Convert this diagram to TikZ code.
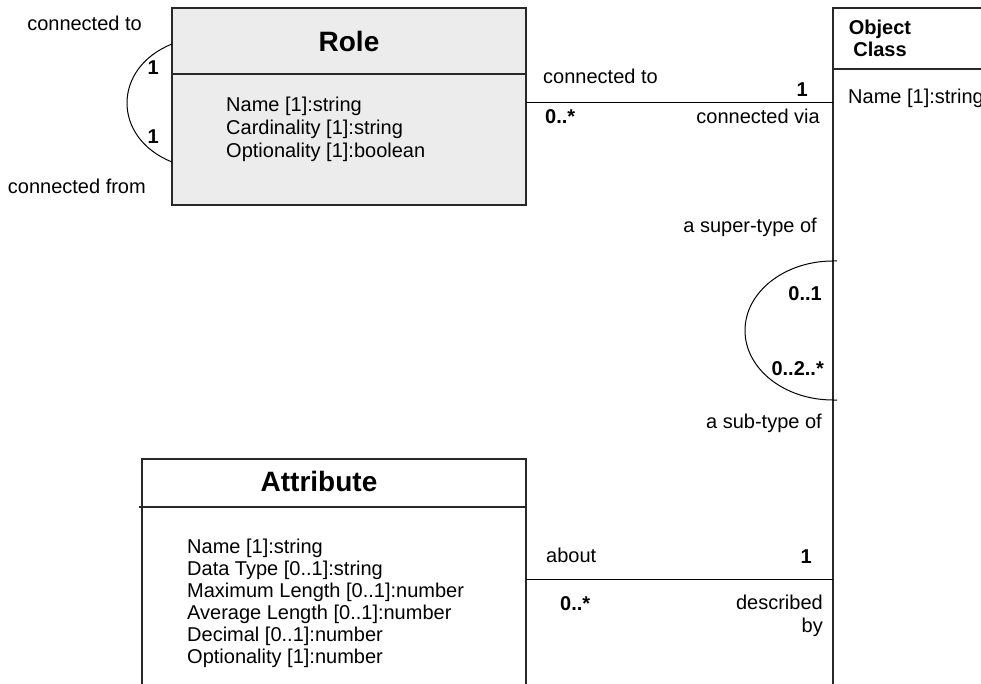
\documentclass[tikz,border=0pt]{standalone}
\usepackage{fontspec}
\setmainfont{Liberation Sans}
\definecolor{rolefill}{RGB}{236,236,236}
\definecolor{edge}{RGB}{40,40,40}
\begin{document}
\begin{tikzpicture}[x=1pt,y=-1pt,
  box/.style={draw=edge, line width=1.2pt, inner sep=0pt, outer sep=0pt, anchor=north west},
  sep/.style={draw=edge, line width=1.2pt},
  conn/.style={draw=black, line width=1pt},
  lbl/.style={inner sep=0pt, font=\fontsize{20}{23}\selectfont},
  mult/.style={inner sep=0pt, font=\bfseries\fontsize{20}{23}\selectfont},
  ttl/.style={inner sep=0pt, font=\bfseries\fontsize{28}{32}\selectfont},
  attrs/.style={inner sep=0pt, align=left, anchor=north west, font=\fontsize{20}{23}\selectfont}]
\useasboundingbox (0,0) rectangle (981,684);
\clip (0,0) rectangle (981,684);

% boxes
\node[box, fill=rolefill, minimum width=354pt, minimum height=197pt] (role) at (172,8) {};
\node[box, fill=white, minimum width=220pt, minimum height=720pt] (oc) at (833,8) {};
\node[box, fill=white, minimum width=384pt, minimum height=260pt] (attr) at (142,459) {};

% compartment separators
\draw[sep] (172,74) -- (526,74);
\draw[sep] (833,69) -- (1000,69);
\draw[sep] (139,507) -- (526,507);

% titles
\node[ttl] (roleT) at (349,41) {Role};
\node[mult, align=center, anchor=north, font=\bfseries\fontsize{20}{22}\selectfont] (ocT) at (880,20) {Object\\Class};
\node[ttl] (attrT) at (319,481) {Attribute};

% attributes
\node[attrs] (roleA) at (226,97) {Name [1]:string\\Cardinality [1]:string\\Optionality [1]:boolean};
\node[attrs] (ocA) at (848,89) {Name [1]:string};
\node[attrs, font=\fontsize{20}{22}\selectfont] (attrA) at (187,539) {Name [1]:string\\Data Type [0..1]:string\\Maximum Length [0..1]:number\\Average Length [0..1]:number\\Decimal [0..1]:number\\Optionality [1]:number};

% helper coordinates
\coordinate (y1) at (0,103);
\coordinate (y2) at (0,579);
\coordinate (a1) at (0,44);
\coordinate (a2) at (0,162);
\coordinate (b1) at (0,261);

% connectors
\draw[conn] (role.east |- y1) -- (oc.west |- y1);
\draw[conn] (attr.east |- y2) -- (oc.west |- y2);
\draw[conn] (role.west |- a1) .. controls (112,68) and (112,138) .. (role.west |- a2);
\draw[conn] (oc.west |- b1) ++(4,0) -- ++(-4,0) arc[start angle=270, end angle=90, x radius=88, y radius=69.5] -- ++(4,0);

% role self association labels
\node[lbl, anchor=base east] (lrt) at (142,31) {connected to};
\node[lbl, anchor=base east] (lrf) at (146,194) {connected from};
\node[mult, anchor=base east] (m1) at (159,75) {1};
\node[mult, anchor=base east] (m2) at (159,144) {1};

% role - object class labels
\node[lbl, anchor=base west] (lct) at (543,84) {connected to};
\node[mult, anchor=base east] (m3) at (808,97) {1};
\node[mult, anchor=base west] (m4) at (545,124) {0..*};
\node[lbl, anchor=base east] (lcv) at (820,124) {connected via};

% object class self association labels
\node[lbl, anchor=base east] (lsup) at (817,233) {a super-type of};
\node[mult, anchor=base east] (m5) at (822,300) {0..1};
\node[mult, anchor=base east] (m6) at (824,375) {0..2..*};
\node[lbl, anchor=base east] (lsub) at (822,428) {a sub-type of};

% attribute - object class labels
\node[lbl, anchor=base west] (lab) at (546,562) {about};
\node[mult, anchor=base east] (m7) at (812,563) {1};
\node[mult, anchor=base west] (m8) at (560,610) {0..*};
\node[lbl, align=right, anchor=north east, font=\fontsize{20}{23}\selectfont] (ldb) at (823,595) {described\\by};
\end{tikzpicture}
\end{document}
